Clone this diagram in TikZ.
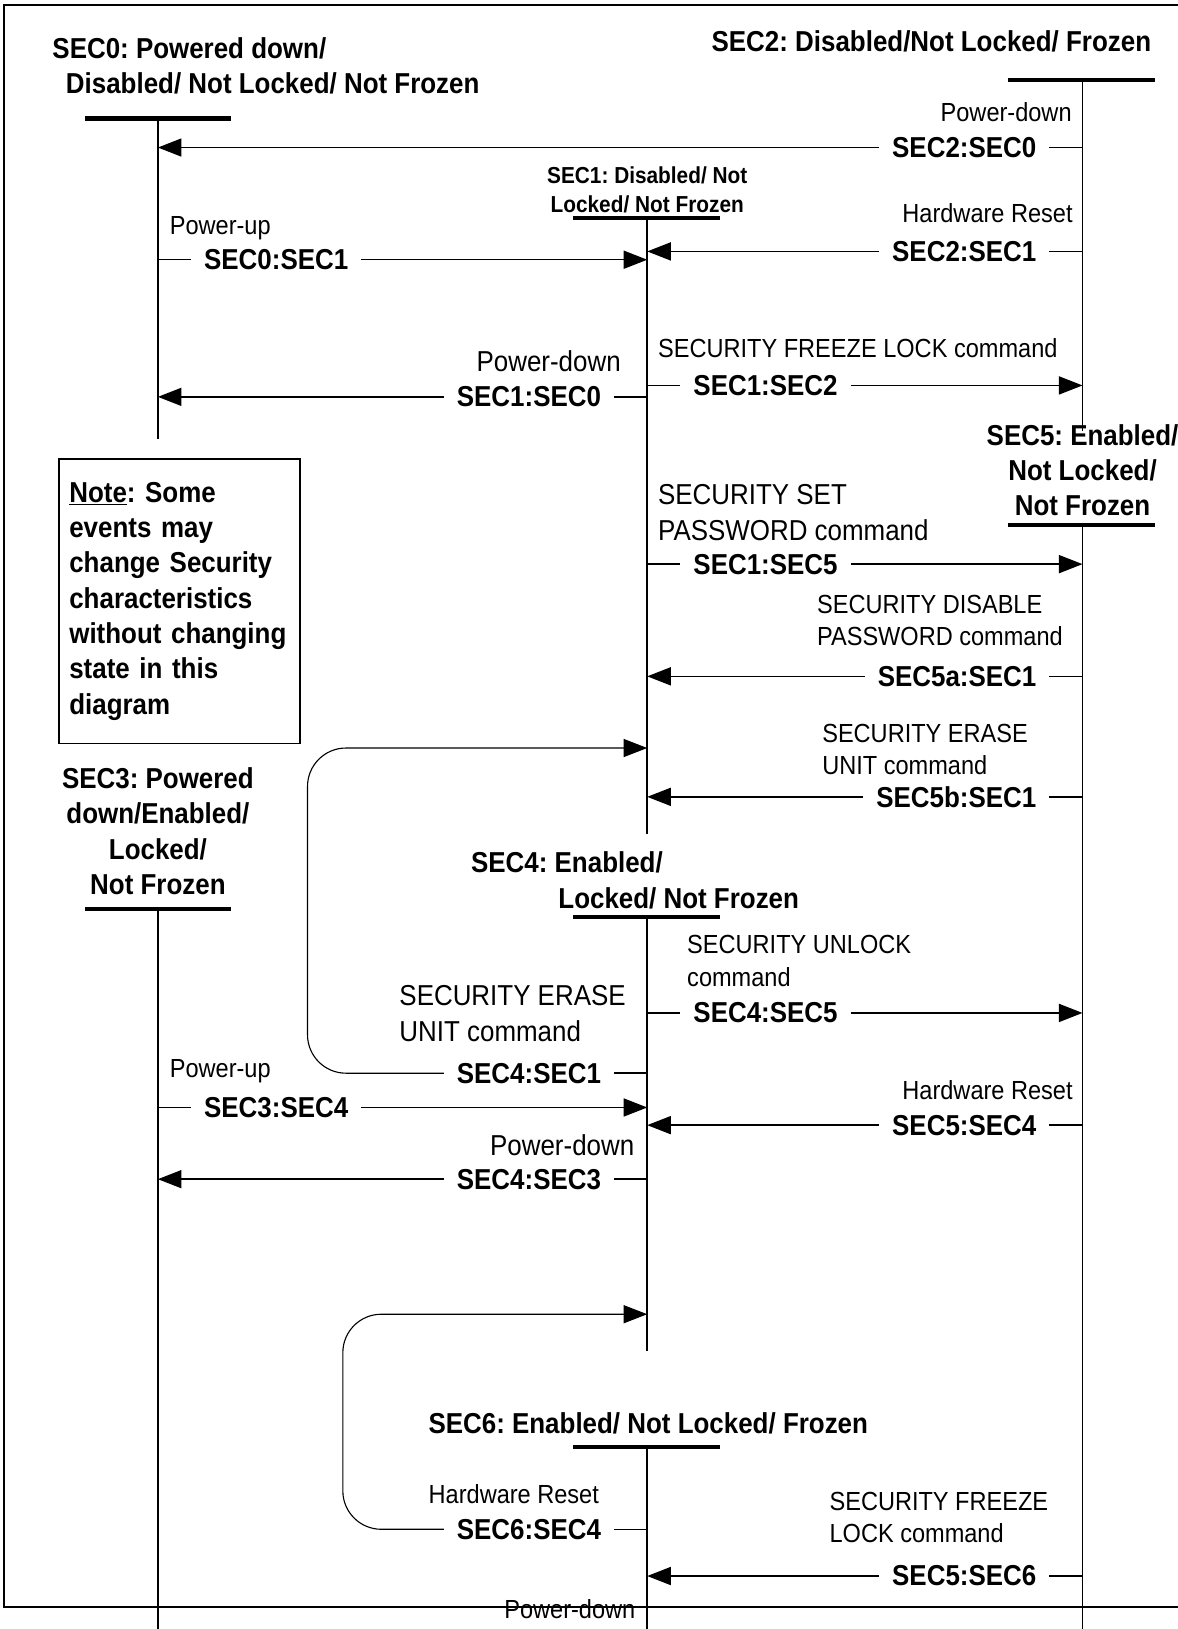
\documentclass[tikz,border=0pt]{standalone}
\usepackage{fontspec}
\setmainfont{Liberation Sans}[FakeStretch=0.9]
\usetikzlibrary{arrows.meta}
\frenchspacing

\tikzset{every picture/.style={line width=0.75pt}}
\tikzset{
  lane/.style={line width=1.1pt},
  bar/.style={line width=3pt},
  arr/.style={line width=1.1pt, -{Triangle[length=17pt,width=13pt]}},
  loop/.style={line width=0.8pt, rounded corners=27.75pt, -{Triangle[length=17pt,width=13pt]}},
  trans/.style={font=\fontsize{20.8}{24}\selectfont\bfseries, inner xsep=9pt, inner ysep=0pt},
  evt/.style={font=\fontsize{18.9}{23.25}\selectfont, inner sep=0pt, align=left},
  evtbig/.style={font=\fontsize{20.8}{25.5}\selectfont, inner sep=0pt, align=left},
  state/.style={font=\fontsize{20.8}{25.5}\selectfont\bfseries, inner sep=0pt},
}

\begin{document}
\begin{tikzpicture}[x=0.75pt,y=0.75pt,yscale=-1,xscale=1]
    \useasboundingbox (0,0) rectangle (1133,1568);

    %Frame
    \draw [line width=1.5pt] (1150,5) -- (4,5) -- (4,1547) -- (1150,1547) ;

    %Lifeline positions
    \coordinate (L0) at (152,0);
    \coordinate (L1) at (623,0);
    \coordinate (L2) at (1042,0);

    % State Nodes
    \node [state, align=left, anchor=west] (s0) at (50,63.5) {SEC0: Powered down/\\\hspace*{9.75pt}Disabled/ Not Locked/ Not Frozen};
    \node [state] (s2) at (896.5,40) {SEC2: Disabled/Not Locked/ Frozen};
    \node [state, font=\fontsize{16.7}{21}\selectfont\bfseries, align=center] (s1) at (623,183) {SEC1: Disabled/ Not\\Locked/ Not Frozen};
    \node [state, align=center] (s5) at (1042,452.5) {SEC5: Enabled/\\Not Locked/\\Not Frozen};
    \node [state, align=center] (s3) at (152,800) {SEC3: Powered\\down/Enabled/\\Locked/\\Not Frozen};
    \node [state, align=left, anchor=west] (s4) at (453,847.5) {SEC4: Enabled/\\\hspace*{63pt}Locked/ Not Frozen};
    \node [state] (s6) at (624,1370) {SEC6: Enabled/ Not Locked/ Frozen};

    % Note
    \node [state, draw, line width=1.1pt, align=left, text width=159pt, inner xsep=7.5pt, minimum height=205.5pt, anchor=north west] (note) at (56,441) {\underline{Note}: Some\\events may\\change Security\\characteristics\\without changing\\state in this\\diagram};

    %Bars
    \draw [bar] (82,114) -- (222,114) ;
    \draw [bar] (970,77) -- (1112,77) ;
    \draw [bar] (552,210) -- (693,210) ;
    \draw [bar] (970,505) -- (1112,505) ;
    \draw [bar] (82,875) -- (222,875) ;
    \draw [bar] (552,883) -- (693,883) ;
    \draw [bar] (552,1393) -- (693,1393) ;

    %Lifelines
    \draw [lane] (152,114) -- (152,423) ;
    \draw [lane] (1042,77) -- (1042,415) ;
    \draw [lane] (623,210) -- (623,803) ;
    \draw [lane] (1042,505) -- (1042,1568) ;
    \draw [lane] (152,875) -- (152,1568) ;
    \draw [lane] (623,883) -- (623,1300) ;
    \draw [lane] (623,1393) -- (623,1568) ;

    % Transition Nodes
    \node [trans, anchor=east] (t20) at (1010,142) {SEC2:SEC0};
    \node [trans, anchor=west] (t01) at (184,250) {SEC0:SEC1};
    \node [trans, anchor=east] (t21) at (1010,242) {SEC2:SEC1};
    \node [trans, anchor=east] (t10) at (591,382) {SEC1:SEC0};
    \node [trans, anchor=west] (t12) at (655,371) {SEC1:SEC2};
    \node [trans, anchor=west] (t15) at (655,543) {SEC1:SEC5};
    \node [trans, anchor=east] (t5a) at (1010,651) {SEC5a:SEC1};
    \node [trans, anchor=east] (t5b) at (1010,767) {SEC5b:SEC1};
    \node [trans, anchor=west] (t45) at (655,975) {SEC4:SEC5};
    \node [trans, anchor=east] (t41) at (591,1033) {SEC4:SEC1};
    \node [trans, anchor=west] (t34) at (184,1066) {SEC3:SEC4};
    \node [trans, anchor=east] (t54) at (1010,1083) {SEC5:SEC4};
    \node [trans, anchor=east] (t43) at (591,1135) {SEC4:SEC3};
    \node [trans, anchor=east] (t64) at (591,1472) {SEC6:SEC4};
    \node [trans, anchor=east] (t56) at (1010,1517) {SEC5:SEC6};
    \coordinate (c41) at (296,720);
    \coordinate (c64) at (330,1265);

    %Straight Lines
    \draw [lane] (t20 -| L2) -- (t20) ;  \draw [arr] (t20) -- (t20 -| L0) ;
    \draw [lane] (t01 -| L0) -- (t01) ;  \draw [arr] (t01) -- (t01 -| L1) ;
    \draw [lane] (t21 -| L2) -- (t21) ;  \draw [arr] (t21) -- (t21 -| L1) ;
    \draw [lane] (t10 -| L1) -- (t10) ;  \draw [arr] (t10) -- (t10 -| L0) ;
    \draw [lane] (t12 -| L1) -- (t12) ;  \draw [arr] (t12) -- (t12 -| L2) ;
    \draw [lane] (t15 -| L1) -- (t15) ;  \draw [arr] (t15) -- (t15 -| L2) ;
    \draw [lane] (t5a -| L2) -- (t5a) ;  \draw [arr] (t5a) -- (t5a -| L1) ;
    \draw [lane] (t5b -| L2) -- (t5b) ;  \draw [arr] (t5b) -- (t5b -| L1) ;
    \draw [lane] (t45 -| L1) -- (t45) ;  \draw [arr] (t45) -- (t45 -| L2) ;
    \draw [lane] (t34 -| L0) -- (t34) ;  \draw [arr] (t34) -- (t34 -| L1) ;
    \draw [lane] (t54 -| L2) -- (t54) ;  \draw [arr] (t54) -- (t54 -| L1) ;
    \draw [lane] (t43 -| L1) -- (t43) ;  \draw [arr] (t43) -- (t43 -| L0) ;
    \draw [lane] (t56 -| L2) -- (t56) ;  \draw [arr] (t56) -- (t56 -| L1) ;
    %Loops
    \draw [lane] (t41 -| L1) -- (t41) ;  \draw [loop] (t41) -| (c41) -- (c41 -| L1) ;
    \draw [lane] (t64 -| L1) -- (t64) ;  \draw [loop] (t64) -| (c64) -- (c64 -| L1) ;

    % Text Node
    \node [evt, anchor=east] (e20) at (1032,108) {Power-down};
    \node [evt, anchor=west] (e01) at (163,220) {Power-up};
    \node [evt, anchor=east] (e21) at (1033,205) {Hardware Reset};
    \node [evtbig, anchor=east] (e10) at (598,348) {Power-down};
    \node [evt, anchor=west] (e12) at (633,335) {SECURITY FREEZE LOCK command};
    \node [evtbig, anchor=west] (e15) at (633,493.5) {SECURITY SET\\PASSWORD command};
    \node [evt, anchor=west] (e5a) at (786,597) {SECURITY DISABLE\\PASSWORD command};
    \node [evt, anchor=west] (e5b) at (791,721.5) {SECURITY ERASE\\UNIT command};
    \node [evt, anchor=west] (e45) at (661,925) {SECURITY UNLOCK\\command};
    \node [evtbig, anchor=west] (e41) at (384,975.5) {SECURITY ERASE\\UNIT command};
    \node [evt, anchor=west] (e34) at (163,1031) {Power-up};
    \node [evt, anchor=east] (e54) at (1033,1049) {Hardware Reset};
    \node [evtbig, anchor=east] (e43) at (611,1102) {Power-down};
    \node [evt, anchor=east] (e64) at (577,1438) {Hardware Reset};
    \node [evt, anchor=west] (e56) at (798,1460.5) {SECURITY FREEZE\\LOCK command};
    \node [evt, anchor=east] (ebot) at (612,1549) {Power-down};

\end{tikzpicture}
\end{document}
